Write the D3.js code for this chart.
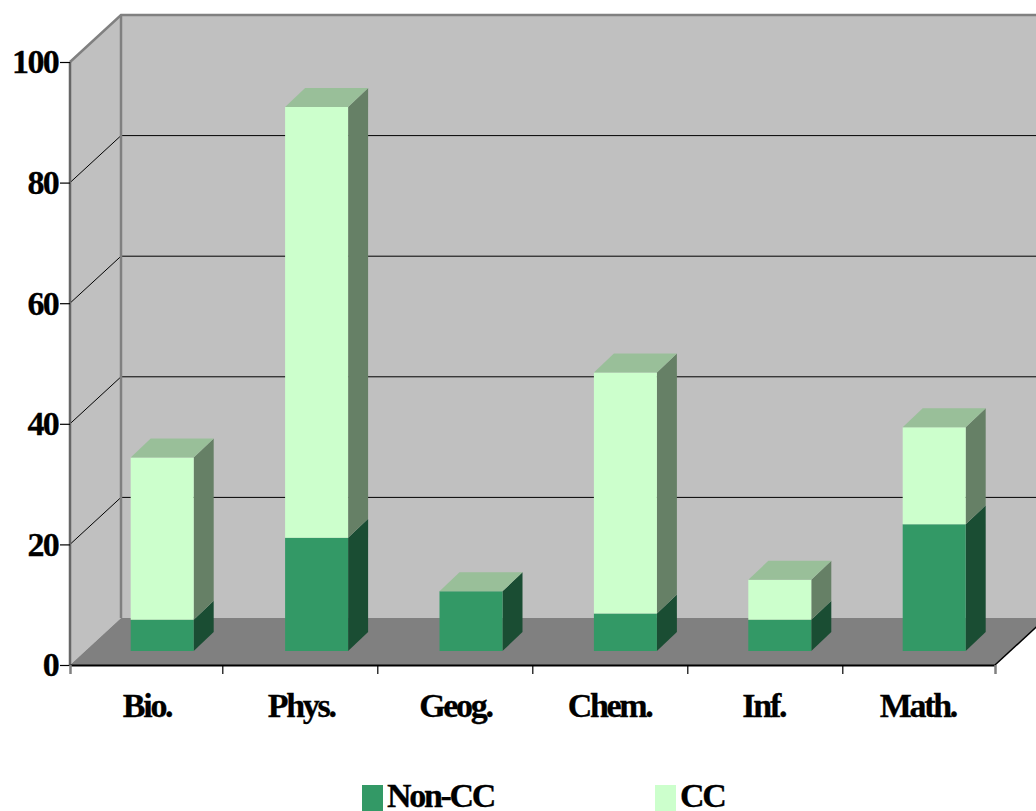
<!DOCTYPE html>
<html lang="en">
<head>
    <meta charset="UTF-8">
    <title>Non-CC and CC by subject</title>
    <script src="https://d3js.org/d3.v7.min.js"></script>
    <style>
        html, body {
            margin: 0;
            padding: 0;
            background-color: #fff;
            overflow: hidden;
        }

        svg {
            display: block;
        }

        text {
            font-family: "Liberation Serif", serif;
            font-weight: bold;
            font-size: 34px;
            letter-spacing: -2.3px;
            fill: #000;
            stroke: #000;
            stroke-width: 0.3px;
        }

        .tick text {
            letter-spacing: -1.7px;
        }
    </style>
</head>
<body>
    <svg id="chart" width="1036" height="811"></svg>

    <script>
        // Values
        const categories = ["Bio.", "Phys.", "Geog.", "Chem.", "Inf.", "Math."];
        const nonCC = [5.2, 18.8, 9.9, 6.2, 5.2, 21];
        const cc = [26.9, 71.4, 0, 40, 6.6, 16.1];
        const yTicks = [0, 20, 40, 60, 80, 100];
        const seriesNames = ["Non-CC", "CC"];

        const svg = d3.select("#chart");

        // Front plane of the box and the depth offsets
        const plotLeft = 70, plotRight = 995, plotBottom = 665, plotTop = 62;
        const wallDx = 51, wallDy = 47;   // back wall relative to the front plane
        const barShiftY = 14;             // front face of the bars sits behind the axis
        const barDx = 20, barDy = 19;     // depth of a bar

        const y = d3.scaleLinear().domain([0, 100]).range([plotBottom, plotTop]);
        const x = d3.scaleBand().domain(categories).range([plotLeft, plotRight]); // labels
        const xBar = d3.scaleBand().domain(categories).range([85, 1011.4]);       // bars, on their own plane
        const xTick = d3.scaleBand().domain(categories).range([67.3, 997.3]);     // inner tick marks
        const barWidth = 63;

        const toPoints = pts => pts.map(p => p.join(",")).join(" ");
        const poly = (pts, fill) => svg.append("polygon")
            .attr("points", toPoints(pts))
            .attr("fill", fill);

        // Walls and floor
        poly([[plotLeft, plotTop], [plotLeft + wallDx, plotTop - wallDy], [plotLeft + wallDx, plotBottom - wallDy], [plotLeft, plotBottom]], "#c0c0c0");
        poly([[plotLeft + wallDx, plotTop - wallDy], [plotRight + wallDx, plotTop - wallDy], [plotRight + wallDx, plotBottom - wallDy], [plotLeft + wallDx, plotBottom - wallDy]], "#c0c0c0");
        poly([[plotLeft, plotBottom], [plotLeft + wallDx, plotBottom - wallDy], [plotRight + wallDx, plotBottom - wallDy], [plotRight, plotBottom]], "#808080");

        // Gridlines on side wall and back wall
        yTicks.filter(d => d > 0 && d < 100).forEach(d => {
            svg.append("polyline")
                .attr("points", toPoints([[plotLeft, y(d)], [plotLeft + wallDx, y(d) - wallDy], [plotRight + wallDx, y(d) - wallDy]]))
                .attr("fill", "none")
                .attr("stroke", "#000")
                .attr("stroke-width", 1);
        });

        // Wall edges
        svg.append("polyline")
            .attr("points", toPoints([[plotLeft, plotTop], [plotLeft + wallDx, plotTop - wallDy], [plotRight + wallDx, plotTop - wallDy]]))
            .attr("fill", "none").attr("stroke", "#808080").attr("stroke-width", 2.5);
        svg.append("line")
            .attr("x1", plotLeft + wallDx).attr("y1", plotTop - wallDy)
            .attr("x2", plotLeft + wallDx).attr("y2", plotBottom - wallDy)
            .attr("stroke", "#808080").attr("stroke-width", 2.5);
        svg.append("line")
            .attr("x1", plotLeft).attr("y1", plotTop)
            .attr("x2", plotLeft).attr("y2", plotBottom)
            .attr("stroke", "#666").attr("stroke-width", 2.5);
        svg.append("line")
            .attr("x1", plotRight).attr("y1", plotBottom)
            .attr("x2", plotRight + wallDx).attr("y2", plotBottom - wallDy)
            .attr("stroke", "#000").attr("stroke-width", 1.5);

        // Stacked bars
        const stackColors = [
            { front: "#339966", side: "#1a4d33", cap: "#267350" },
            { front: "#ccffcc", side: "#668066", cap: "#99bf99" },
        ];
        const rows = categories.map((c, i) => ({ category: c, nonCC: nonCC[i], cc: cc[i] }));
        const stacked = d3.stack().keys(["nonCC", "cc"])(rows);

        const yBar = d => y(d) - barShiftY;
        categories.forEach((c, i) => {
            const x0 = xBar(c) + xBar.bandwidth() / 2 - barWidth / 2;
            const x1 = x0 + barWidth;
            stacked.forEach((layer, s) => {
                const [v0, v1] = layer[i];
                const col = stackColors[s];
                if (v1 > v0) {
                    poly([[x1, yBar(v0)], [x1 + barDx, yBar(v0) - barDy], [x1 + barDx, yBar(v1) - barDy], [x1, yBar(v1)]], col.side);
                    poly([[x0, yBar(v1)], [x1, yBar(v1)], [x1, yBar(v0)], [x0, yBar(v0)]], col.front);
                }
                // top cap: the zero-height CC segment still shows on Geog.
                if (s === stacked.length - 1) {
                    poly([[x0, yBar(v1)], [x0 + barDx, yBar(v1) - barDy], [x1 + barDx, yBar(v1) - barDy], [x1, yBar(v1)]], col.cap);
                }
            });
        });

        // Y axis
        const yAxis = d3.axisLeft(y).tickValues(yTicks).tickSize(10).tickSizeOuter(0).tickPadding(2);
        const gy = svg.append("g").attr("transform", `translate(${plotLeft},0)`).call(yAxis);
        gy.select(".domain").remove();
        gy.selectAll("line").attr("stroke", "#000").attr("stroke-width", 1.2);
        gy.selectAll("text")
            .attr("dy", "0.32em")
            .style("font-family", "'Liberation Serif', serif")
            .style("font-size", "34px")
            .attr("fill", "#000");

        // X axis: ticks sit on the band edges, labels in the band centre
        const edges = [plotLeft].concat(categories.slice(1).map(c => xTick(c)), [plotRight]);
        const xEdge = d3.scaleLinear().domain([plotLeft, plotRight]).range([plotLeft, plotRight]);
        const xAxis = d3.axisBottom(xEdge).tickValues(edges).tickSize(9).tickSizeOuter(0).tickFormat("");
        const gx = svg.append("g").attr("transform", `translate(0,${plotBottom})`).call(xAxis);
        gx.select(".domain").attr("stroke", "#000").attr("stroke-width", 2);
        gx.selectAll("line").attr("stroke", "#000").attr("stroke-width", 1.2);
        gx.selectAll(".tick").filter(d => d === plotLeft || d === plotRight)
            .select("line").attr("stroke", "#808080").attr("stroke-width", 2.5);

        svg.selectAll("text.cat")
            .data(categories)
            .enter()
            .append("text")
            .attr("class", "cat")
            .attr("x", d => x(d) + x.bandwidth() / 2)
            .attr("y", 717)
            .attr("text-anchor", "middle")
            .text(d => d);

        // Legend
        const legendX = [362, 655];
        const legendColors = ["#339966", "#ccffcc"];
        seriesNames.forEach((name, i) => {
            svg.append("rect")
                .attr("x", legendX[i]).attr("y", 785)
                .attr("width", 21).attr("height", 26)
                .attr("fill", legendColors[i]);
            svg.append("text")
                .attr("x", legendX[i] + 25).attr("y", 807)
                .text(name);
        });
    </script>
</body>
</html>
